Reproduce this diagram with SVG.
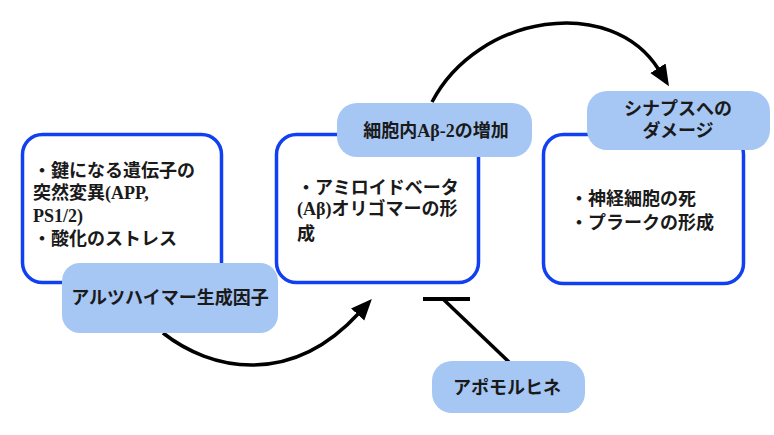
<svg xmlns="http://www.w3.org/2000/svg" width="774" height="435" viewBox="0 0 774 435">
<style>
.box{fill:#ffffff;stroke:#1040f2;stroke-width:3.5}
.lbl{fill:#a6c6f4}
text{font-family:"Liberation Serif","Noto Sans CJK JP",serif;font-size:18px;font-weight:bold;fill:#1a1a1a}
.c{text-anchor:middle}
.con{fill:none;stroke:#000;stroke-width:3.5}
</style>
<defs>
<marker id="ah" markerUnits="userSpaceOnUse" markerWidth="22" markerHeight="20" refX="2" refY="9" orient="auto" viewBox="0 0 22 18">
<path d="M0,0 L21,9 L0,18 z" fill="#000"/>
</marker>
</defs>
<g id="connectors">
<path class="con" d="M163,333 C210,370 290,388 359,313" marker-end="url(#ah)"/>
<path class="con" d="M432,102 C478,14 612,-6 659,70" marker-end="url(#ah)"/>
<line x1="423" y1="299" x2="470" y2="299" stroke="#000" stroke-width="4"/>
<line x1="443" y1="299" x2="509" y2="362" stroke="#000" stroke-width="3.5"/>
</g>
<g id="box1">
<rect class="box" x="22.5" y="134.5" width="199" height="148" rx="20"/>
<text x="33" y="176.5">・鍵になる遺伝子の</text>
<text x="33" y="199">突然変異(APP,</text>
<text x="33" y="222">PS1/2)</text>
<text x="33" y="245">・酸化のストレス</text>
</g>
<g id="box2">
<rect class="box" x="276.5" y="134.5" width="202" height="148" rx="20"/>
<text x="297" y="193.5">・アミロイドベータ</text>
<text x="297" y="214.5">(Aβ)オリゴマーの形</text>
<text x="297" y="239.5">成</text>
</g>
<g id="box3">
<rect class="box" x="543.5" y="134.5" width="200" height="149" rx="20"/>
<text x="570" y="204.5">・神経細胞の死</text>
<text x="570" y="228.5">・プラークの形成</text>
</g>
<g id="label1">
<rect class="lbl" x="62" y="263" width="216" height="70" rx="18"/>
<text class="c" x="170" y="303.5">アルツハイマー生成因子</text>
</g>
<g id="label2">
<rect class="lbl" x="337" y="103" width="195" height="54" rx="20"/>
<text class="c" x="436" y="136.5">細胞内Aβ-2の増加</text>
</g>
<g id="label3">
<rect class="lbl" x="587" y="91" width="183" height="59" rx="20"/>
<text class="c" x="678" y="114.5">シナプスへの</text>
<text class="c" x="678" y="136.5">ダメージ</text>
</g>
<g id="label4">
<rect class="lbl" x="432" y="361" width="153" height="52" rx="20"/>
<text class="c" x="507" y="393.5">アポモルヒネ</text>
</g>
</svg>
